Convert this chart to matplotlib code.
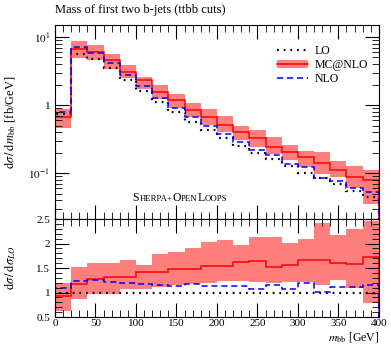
import numpy as np
import matplotlib
matplotlib.use("Agg")
import matplotlib.pyplot as plt
from matplotlib.patches import Patch
from matplotlib.lines import Line2D
from matplotlib.ticker import FixedLocator, MultipleLocator, FuncFormatter, LogLocator, NullFormatter

plt.rcParams['font.family'] = ['Liberation Serif', 'DejaVu Serif']
plt.rcParams['mathtext.fontset'] = 'stix'

# bin edges in m_bb [GeV]
edges = np.arange(0, 420, 20)

# LO cross section [fb/GeV]
lo = [0.73, 5.68, 4.7, 3.46, 2.33, 1.62, 1.10, 0.79, 0.569, 0.43,
      0.33, 0.252, 0.199, 0.161, 0.128, 0.102, 0.085, 0.069, 0.055, 0.045]
# ratios to LO
mc_ratio = [0.925, 1.17, 1.28, 1.32, 1.31, 1.425, 1.425, 1.49, 1.49, 1.55,
            1.535, 1.62, 1.64, 1.52, 1.57, 1.67, 1.67, 1.60, 1.59, 1.73]
mc_hi = [1.19, 1.52, 1.61, 1.61, 1.67, 1.57, 1.79, 1.82, 1.91, 2.04,
         2.07, 1.97, 2.14, 2.14, 2.01, 2.10, 2.42, 2.18, 2.30, 2.47]
mc_lo = [0.63, 0.86, 0.98, 0.98, 1.08, 1.07, 1.11, 1.15, 1.18, 1.20,
         1.23, 1.23, 1.22, 1.195, 1.22, 1.21, 1.16, 1.26, 1.10, 0.79]
nlo_ratio = [1.10, 1.235, 1.25, 1.215, 1.195, 1.17, 1.155, 1.135, 1.17, 1.135,
             1.135, 1.135, 1.08, 1.15, 1.08, 1.20, 1.01, 1.11, 1.11, 1.16]

lo = np.array(lo)
mc = lo * np.array(mc_ratio)
nlo = lo * np.array(nlo_ratio)
band_hi = lo * np.array(mc_hi)
band_lo = lo * np.array(mc_lo)

band_col = (1, 0, 0, 0.5)
dot_style = (0, (0.8, 2.2))
dash_style = (0, (4, 2.5))

fig = plt.figure(figsize=(3.91, 3.45), dpi=100)
ax = fig.add_axes([0.1407, 0.365, 0.8283, 0.5625])
rax = fig.add_axes([0.1407, 0.081, 0.8283, 0.284])

# main panel
ax.stairs(band_hi, edges, baseline=band_lo, fill=True, color=band_col, lw=0)
ax.stairs(lo, edges, color='black', lw=1.6, linestyle=dot_style)
ax.stairs(mc, edges, color='red', lw=1.1)
ax.stairs(nlo, edges, color='blue', lw=1.1, linestyle=dash_style)
ax.set_yscale('log')
ax.set_xlim(0, 400)
ax.set_ylim(0.0211, 15.0)
ax.yaxis.set_major_locator(FixedLocator([0.1, 1, 10]))
ax.yaxis.set_major_formatter(FuncFormatter(
    lambda v, p: {0.1: r'$10^{-1}$', 1: '1', 10: r'$10^{1}$'}.get(round(v, 3), '')))
ax.yaxis.set_minor_locator(LogLocator(base=10, subs=np.arange(2, 10)))
ax.yaxis.set_minor_formatter(NullFormatter())
ax.set_xticklabels([])
ax.set_ylabel(r'$\mathrm{d}\sigma\,/\,\mathrm{d}m_{\mathrm{bb}}$ [fb/GeV]', fontsize=9)
ax.yaxis.set_label_coords(-0.115, 0.5)
ax.text(0, 1.045, 'Mass of first two b-jets (ttbb cuts)', transform=ax.transAxes,
        fontsize=9, ha='left', va='bottom')

h_lo = Line2D([], [], color='black', lw=1.6, linestyle=dot_style)
h_mc = (Patch(facecolor=band_col, lw=0), Line2D([], [], color='red', lw=1.1))
h_nlo = Line2D([], [], color='blue', lw=1.1, linestyle=dash_style)
ax.legend([h_lo, h_mc, h_nlo], ['LO', 'MC@NLO', 'NLO'], loc='upper right',
          bbox_to_anchor=(1.0, 0.95), frameon=False, fontsize=8.5,
          handlelength=2.6, handletextpad=0.6, labelspacing=0.15)

# small caps label, pieces placed side by side on one baseline
parts = [('S', 8.5), ('HERPA+', 6.3), ('O', 8.5), ('PEN', 6.3), ('L', 8.5), ('OOPS', 6.3)]
renderer = fig.canvas.get_renderer()
x0, y0 = ax.transAxes.transform((0.24, 0.095))
for s, fs in parts:
    t = fig.text(x0 / fig.bbox.width, y0 / fig.bbox.height, s, fontsize=fs,
                 ha='left', va='baseline')
    x0 = t.get_window_extent(renderer).x1

# ratio panel
rax.stairs(mc_hi, edges, baseline=mc_lo, fill=True, color=band_col, lw=0)
rax.stairs(np.ones(len(lo)), edges, color='black', lw=1.6, linestyle=dot_style)
rax.stairs(mc_ratio, edges, color='red', lw=1.1)
rax.stairs(nlo_ratio, edges, color='blue', lw=1.1, linestyle=dash_style)
rax.set_xlim(0, 400)
rax.set_ylim(0.5, 2.5)
rax.yaxis.set_major_locator(MultipleLocator(0.5))
rax.yaxis.set_minor_locator(MultipleLocator(0.1))
rax.yaxis.set_major_formatter(FuncFormatter(lambda v, p: f'{v:g}'))
rax.set_ylabel(r'$\mathrm{d}\sigma\,/\,\mathrm{d}\sigma_{LO}$', fontsize=9)
rax.yaxis.set_label_coords(-0.115, 0.5)
fig.text(379 / 391, 1 / 345, r'$m_{\mathrm{bb}}$ [GeV]', fontsize=8.5,
         ha='right', va='bottom')

for a in (ax, rax):
    a.xaxis.set_major_locator(MultipleLocator(50))
    a.xaxis.set_minor_locator(MultipleLocator(10))
    a.tick_params(which='both', direction='in', top=True, right=True, labelsize=8)
    a.tick_params(which='major', length=10, width=0.8)
    a.tick_params(which='minor', length=5, width=0.6)
    for sp in a.spines.values():
        sp.set_linewidth(0.8)
rax.tick_params(axis='x', which='major', pad=1.5)

fig.savefig('out.png', dpi=100)
